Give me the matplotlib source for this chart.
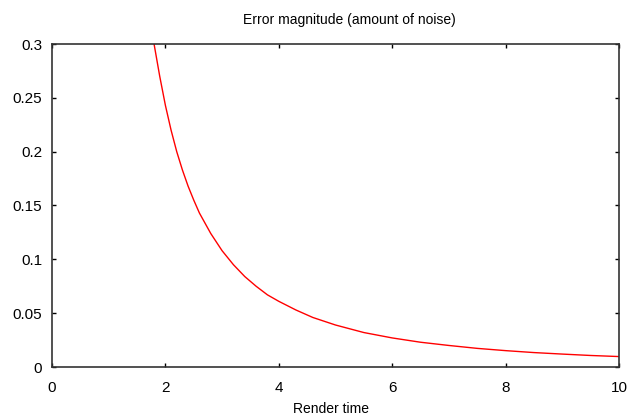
import matplotlib
matplotlib.use("Agg")
import matplotlib.pyplot as plt

render_time = [1.6, 1.7, 1.8, 1.9, 2.0, 2.1, 2.2, 2.3, 2.4, 2.5, 2.6, 2.8, 3.0, 3.2, 3.4, 3.6, 3.8,
               4.0, 4.3, 4.6, 5.0, 5.5, 6.0, 6.5, 7.0, 7.5, 8.0, 8.5, 9.0, 9.5, 10.0]
error = [0.38, 0.336, 0.30, 0.27, 0.243, 0.22, 0.20, 0.183, 0.168, 0.155, 0.143, 0.124, 0.108,
         0.095, 0.084, 0.075, 0.067, 0.061, 0.053, 0.046, 0.039, 0.032, 0.027, 0.023, 0.020,
         0.0173, 0.0152, 0.0134, 0.012, 0.0107, 0.0097]

xticks = [0, 2, 4, 6, 8, 10]
yticks = [0, 0.05, 0.1, 0.15, 0.2, 0.25, 0.3]
ytick_labels = ["0", "0.05", "0.1", "0.15", "0.2", "0.25", "0.3"]

plt.rcParams['font.family'] = ['Liberation Sans', 'DejaVu Sans']
fig = plt.figure(figsize=(6.31, 4.19), dpi=100)
ax = fig.add_axes([52/631, 1 - 367/419, (619-52)/631, (367-44)/419])
ax.plot(render_time, error, color='#ff0000', lw=1.0)
ax.set_xlim(0, 10)
ax.set_ylim(0, 0.3)
ax.set_xticks(xticks)
ax.set_xticklabels([str(t) for t in xticks])
ax.set_yticks(yticks)
ax.set_yticklabels(ytick_labels)
ax.tick_params(direction='in', length=3, width=1, top=True, right=True, labelsize=11, colors='black')
ax.tick_params(axis='y', pad=7)
ax.tick_params(axis='x', pad=10)
for s in ax.spines.values():
    s.set_color('#333333')
    s.set_linewidth(1.2)
fig.text(349/631, 1 - 20/419, "Error magnitude (amount of noise)", fontsize=10, ha='center', va='center')
fig.text(331/631, 1 - 409/419, "Render time", fontsize=10, ha='center', va='center')
fig.savefig("out.png", dpi=100)
